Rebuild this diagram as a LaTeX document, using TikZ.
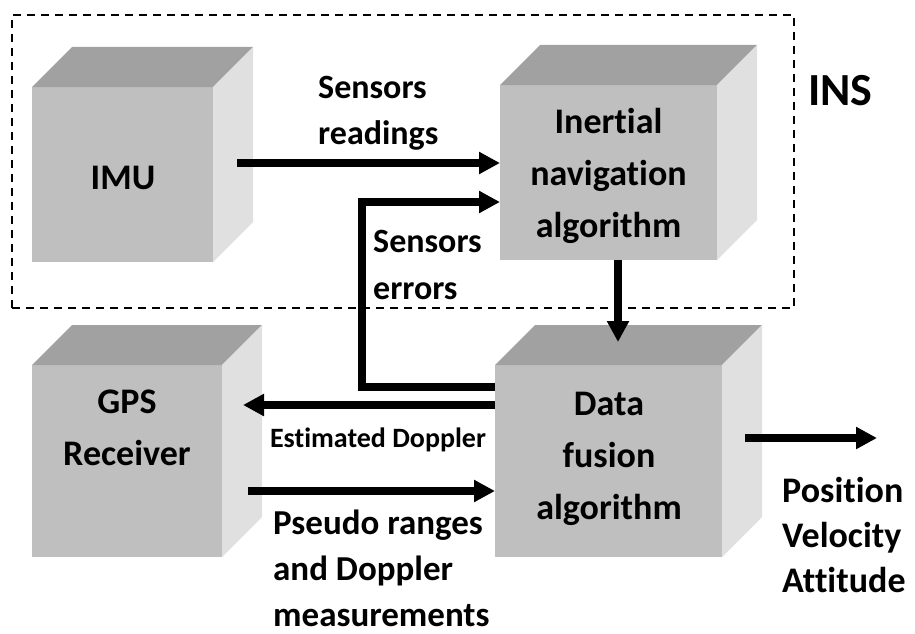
\documentclass[tikz,border=0pt]{standalone}
\usepackage{fontspec}
\setmainfont{Carlito}[Ligatures={NoCommon,NoContextual}]
\usetikzlibrary{arrows.meta,calc}

\definecolor{facefront}{gray}{0.75}
\definecolor{facetop}{gray}{0.63}
\definecolor{faceside}{gray}{0.88}

% stacked lines (separated by \cr); the first baseline is the box baseline
\newcommand\stackc[1]{\vtop{\halign{\hfil##\hfil\cr#1\crcr}}}
\newcommand\stackl[1]{\vtop{\halign{##\hfil\cr#1\crcr}}}

% top and right faces of a cube whose front face is node #1
\newcommand\cubefaces[1]{%
  \fill[facetop] (#1.north west) -- ++(40,-40) -- ($(#1.north east)+(40,-40)$) -- (#1.north east) -- cycle;
  \fill[faceside] (#1.north east) -- ++(40,-40) -- ($(#1.south east)+(40,-40)$) -- (#1.south east) -- cycle;}

\tikzset{
  frontface/.style={fill=facefront, draw=none, inner sep=0pt, outer sep=0pt},
  arr/.style={line width=7.5pt, line join=miter, -{Triangle[length=21pt,width=21pt]}},
  boxtext/.style={inner sep=0pt, anchor=base, font=\fontsize{36}{52}\selectfont\bfseries},
  lbl/.style={inner sep=0pt, anchor=base west, font=\fontsize{34}{47}\selectfont\bfseries},
  insframe/.style={draw, line width=2.2pt, dash pattern=on 8pt off 6pt, inner sep=0pt},
}

\begin{document}
\begin{tikzpicture}[x=1pt, y=-1pt]
\useasboundingbox[fill=white] (0,0) rectangle (915,634);

% INS boundary
\node[insframe, minimum width=782pt, minimum height=293pt] (insbox) at (403,161.5) {};

% front faces of the four blocks
\node[frontface, minimum width=181pt, minimum height=175pt] (imu) at (122.5,174.5) {};
\node[frontface, minimum width=217pt, minimum height=175pt] (ina) at (608.5,172.5) {};
\node[frontface, minimum width=190pt, minimum height=192pt] (gps) at (127,461) {};
\node[frontface, minimum width=227pt, minimum height=192pt] (df)  at (608.5,461) {};
\cubefaces{imu}
\cubefaces{ina}
\cubefaces{gps}
\cubefaces{df}

% connectors
\coordinate (srd) at ($(imu.east)+(24,-11.5)$);
\draw[arr] (srd) -- (srd -| ina.west);

\coordinate (ser) at ($(df.west)+(0,-74)$);
\coordinate (sin) at ($(ina.west)+(0,29.5)$);
\draw[arr] (ser) -- ++(-133,0) |- (sin);

\coordinate (edo) at ($(df.west)+(0,-56)$);
\coordinate (edi) at ($(gps.east)+(21,-56)$);
\draw[arr] (edo) -- (edi);

\coordinate (pso) at ($(gps.east)+(26,30)$);
\draw[arr] (pso) -- (pso -| df.west);

\coordinate (nvo) at ($(ina.south)+(9.5,0)$);
\coordinate (nvi) at ($(df.north)+(9.5,-23)$);
\draw[arr] (nvo) -- (nvi);

\coordinate (outs) at ($(df.east)+(23,-23)$);
\coordinate (oute) at ($(df.east)+(155,-23)$);
\draw[arr] (outs) -- (oute);

% block texts
\node[boxtext] (imu-t) at (123,189) {IMU};
\node[boxtext] (ina-t) at (608.5,133) {\stackc{Inertial\cr navigation\cr algorithm}};
\node[boxtext] (gps-t) at (127,413) {\stackc{GPS\cr Receiver}};
\node[boxtext] (df-t)  at (609,415) {\stackc{Data\cr fusion\cr algorithm}};

% connector labels
\node[lbl] (l-read) at (318,98) {\stackl{Sensors\cr readings}};
\node[lbl] (l-err) at (373,252) {\stackl{Sensors\cr errors}};
\node[lbl, font=\fontsize{35}{46}\selectfont\bfseries] (l-pseudo) at (273,534) {\stackl{Pseudo ranges\cr and Doppler\cr measurements}};
\node[lbl, font=\fontsize{36}{45}\selectfont\bfseries] (l-out) at (782,502) {\stackl{Position\cr Velocity\cr Attitude}};
\node[inner sep=0pt, anchor=base, font=\fontsize{28}{34}\selectfont\bfseries] (l-est) at (378,447) {Estimated Doppler};
\node[inner sep=0pt, anchor=base west, font=\fontsize{46}{55}\selectfont\bfseries] (l-ins) at (808,105) {INS};
\end{tikzpicture}
\end{document}
